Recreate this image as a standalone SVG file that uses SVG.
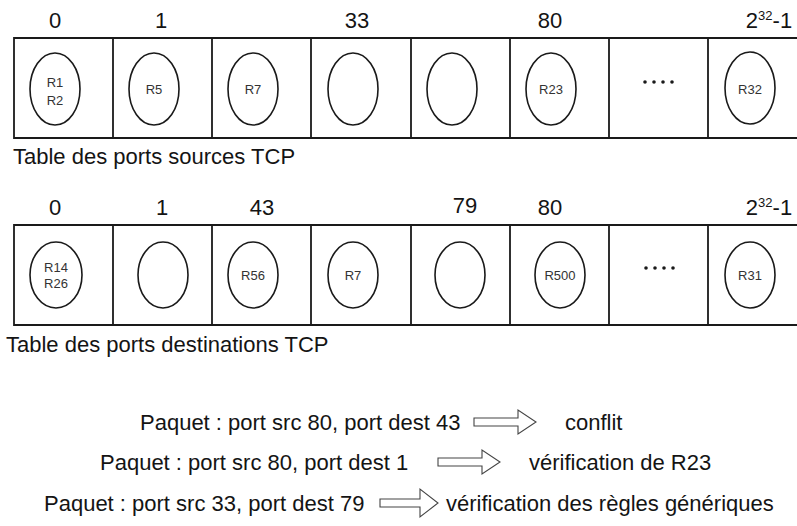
<svg xmlns="http://www.w3.org/2000/svg" width="797" height="526" viewBox="0 0 797 526">
<style>
text{font-family:"Liberation Sans",Arial,sans-serif;fill:#141414}
.lbl{font-size:22px;text-anchor:middle}
.sup{font-size:13px}
.cap{font-size:22px}
.r{font-size:13px;fill:#333;text-anchor:middle}
.cell{fill:none;stroke:#1a1a1a;stroke-width:1.8}
.ell{fill:#fff;stroke:#1a1a1a;stroke-width:1.6}
.dot{fill:#1a1a1a}
.arr{fill:#fff;stroke:#444;stroke-width:1.1;stroke-linejoin:miter}
.msg{font-size:22px}
</style>
<rect width="797" height="526" fill="#fff"/>

<g id="table-src">
<text class="lbl" x="55" y="28">0</text>
<text class="lbl" x="161" y="28">1</text>
<text class="lbl" x="357" y="28">33</text>
<text class="lbl" x="550" y="28">80</text>
<text class="lbl" x="769" y="28">2<tspan class="sup" dy="-8">32</tspan><tspan dy="8">-1</tspan></text>
<path class="cell" d="M800 38H14V138H800M113 38V138M212 38V138M311 38V138M411 38V138M510 38V138M609 38V138M708 38V138"/>
<g id="src-0"><ellipse class="ell" cx="55" cy="89" rx="25" ry="36"/><text class="r" x="55" y="87">R1</text><text class="r" x="55" y="105">R2</text></g>
<g id="src-1"><ellipse class="ell" cx="154" cy="89" rx="25" ry="36"/><text class="r" x="154" y="94">R5</text></g>
<g id="src-2"><ellipse class="ell" cx="253" cy="89" rx="25" ry="36"/><text class="r" x="253" y="94">R7</text></g>
<g id="src-33"><ellipse class="ell" cx="353" cy="89" rx="25" ry="36"/></g>
<g id="src-4"><ellipse class="ell" cx="452" cy="89" rx="25" ry="36"/></g>
<g id="src-80"><ellipse class="ell" cx="551" cy="89" rx="25" ry="36"/><text class="r" x="551" y="94">R23</text></g>
<g id="src-dots"><circle class="dot" cx="645" cy="82" r="1.8"/><circle class="dot" cx="654" cy="82" r="1.8"/><circle class="dot" cx="663" cy="82" r="1.8"/><circle class="dot" cx="672" cy="82" r="1.8"/></g>
<g id="src-max"><ellipse class="ell" cx="750" cy="88" rx="25" ry="36"/><text class="r" x="750" y="94">R32</text></g>
<text class="cap" x="13" y="164">Table des ports sources TCP</text>
</g>

<g id="table-dst">
<text class="lbl" x="55" y="215">0</text>
<text class="lbl" x="162" y="215">1</text>
<text class="lbl" x="262" y="215">43</text>
<text class="lbl" x="465" y="213">79</text>
<text class="lbl" x="550" y="215">80</text>
<text class="lbl" x="769" y="215">2<tspan class="sup" dy="-8">32</tspan><tspan dy="8">-1</tspan></text>
<path class="cell" d="M800 225H14V325H800M113 225V325M212 225V325M311 225V325M411 225V325M510 225V325M609 225V325M708 225V325"/>
<g id="dst-0"><ellipse class="ell" cx="56" cy="275" rx="26" ry="33"/><text class="r" x="56" y="272">R14</text><text class="r" x="56" y="288">R26</text></g>
<g id="dst-1"><ellipse class="ell" cx="163" cy="275" rx="25" ry="33"/></g>
<g id="dst-43"><ellipse class="ell" cx="253" cy="275" rx="25" ry="33"/><text class="r" x="253" y="280">R56</text></g>
<g id="dst-3"><ellipse class="ell" cx="353" cy="275" rx="25" ry="33"/><text class="r" x="353" y="280">R7</text></g>
<g id="dst-79"><ellipse class="ell" cx="460" cy="275" rx="25" ry="33"/></g>
<g id="dst-80"><ellipse class="ell" cx="560" cy="275" rx="25" ry="33"/><text class="r" x="560" y="280">R500</text></g>
<g id="dst-dots"><circle class="dot" cx="646" cy="268" r="1.8"/><circle class="dot" cx="655" cy="268" r="1.8"/><circle class="dot" cx="664" cy="268" r="1.8"/><circle class="dot" cx="673" cy="268" r="1.8"/></g>
<g id="dst-max"><ellipse class="ell" cx="750" cy="275" rx="25" ry="33"/><text class="r" x="750" y="280">R31</text></g>
<text class="cap" x="6" y="352">Table des ports destinations TCP</text>
</g>

<g id="connectors">
<path class="arr" d="M474 418H518V410L536 422L518 434V426H474Z"/>
<path class="arr" d="M438 458H482V450L500 462L482 474V466H438Z"/>
<path class="arr" d="M380 499H420V489L438 503L420 517V507H380Z"/>
</g>

<g id="messages">
<text class="msg" x="140" y="430">Paquet : port src 80, port dest 43</text>
<text class="msg" x="565" y="430">conflit</text>
<text class="msg" x="100" y="470">Paquet : port src 80, port dest 1</text>
<text class="msg" x="529" y="470">vérification de R23</text>
<text class="msg" x="44" y="511">Paquet : port src 33, port dest 79</text>
<text class="msg" x="446" y="511">vérification des règles génériques</text>
</g>
</svg>
